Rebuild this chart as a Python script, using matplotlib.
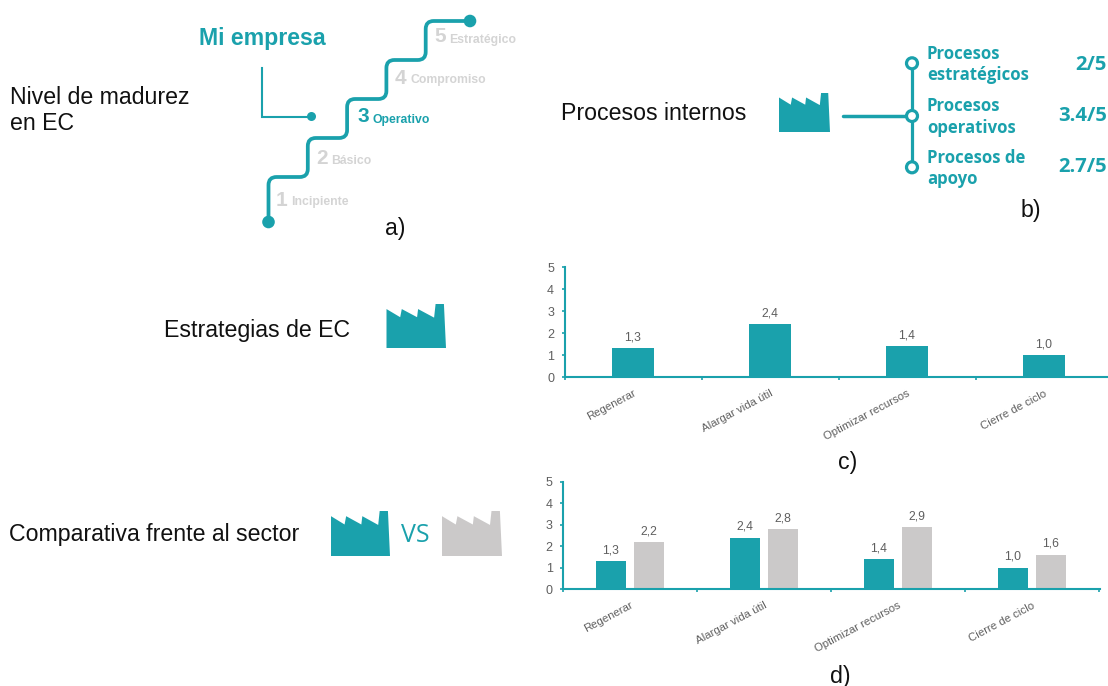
import matplotlib
matplotlib.use("Agg")
import matplotlib.pyplot as plt
import numpy as np
from matplotlib.patches import Circle, PathPatch, Polygon
from matplotlib.path import Path

W, H, DPI = 1108, 686, 100
TEAL = "#1AA1AC"
GREY = "#CBC9C9"
PALE = "#D4D4D4"
TEXT = "#111111"
TICK = "#5F5F5F"
HEAD = 16.7

# Data
categories = ["Regenerar", "Alargar vida útil", "Optimizar recursos", "Cierre de ciclo"]
mi_empresa = [1.3, 2.4, 1.4, 1.0]
sector = [2.2, 2.8, 2.9, 1.6]
niveles = [("1", "Incipiente"), ("2", "Básico"), ("3", "Operativo"),
           ("4", "Compromiso"), ("5", "Estratégico")]
nivel_actual = 3
procesos = ["Procesos\nestratégicos", "Procesos\noperativos", "Procesos de\napoyo"]
puntuaciones = ["2/5", "3.4/5", "2.7/5"]

plt.rcParams["font.family"] = ["Liberation Sans", "DejaVu Sans"]
fig = plt.figure(figsize=(W / DPI, H / DPI), dpi=DPI, facecolor="white")

# Full-figure layer in pixel units for the diagram elements
bg = fig.add_axes([0, 0, 1, 1])
bg.set_xlim(0, W)
bg.set_ylim(H, 0)
bg.axis("off")


def factory(x0, x1, y0, y1, color):
    outline = [(0, .115), (.23, .30), (.257, .115), (.514, .30), (.531, .115), (.80, .31),
               (.825, 0), (.965, 0), (1, 1), (0, 1)]
    pts = [(x0 + u * (x1 - x0), y0 + v * (y1 - y0)) for u, v in outline]
    bg.add_patch(Polygon(pts, closed=True, fc=color, ec="none"))


def stairs():
    r = 8
    xs = [268.5 + 39.3 * i for i in range(5)]
    tops = [177 - 39 * i for i in range(5)]
    verts = [(xs[0], 222)]
    codes = [Path.MOVETO]
    for i, (x, top) in enumerate(zip(xs, tops)):
        verts += [(x, top + r), (x, top), (x + r, top)]
        codes += [Path.LINETO, Path.CURVE3, Path.CURVE3]
        if i < 4:
            nx = xs[i + 1]
            verts += [(nx - r, top), (nx, top), (nx, top - r)]
            codes += [Path.LINETO, Path.CURVE3, Path.CURVE3]
    verts.append((470, tops[-1]))
    codes.append(Path.LINETO)
    bg.add_patch(PathPatch(Path(verts, codes), fc="none", ec=TEAL, lw=2.7,
                           capstyle="round", joinstyle="round"))


# Panel a: maturity staircase
bg.text(10, 110.5, "Nivel de madurez\nen EC", fontsize=HEAD, color=TEXT, va="center",
        linespacing=1.12)
bg.text(199, 39, "Mi empresa", fontsize=16.7, color=TEAL, weight="bold", va="center")
bg.plot([262, 262, 311], [68, 116.5, 116.5], color=TEAL, lw=1.5, solid_joinstyle="miter")
bg.add_patch(Circle((311.5, 116.5), 4.5, fc=TEAL, ec="none"))
stairs()
bg.add_patch(Circle((268.5, 222), 6.3, fc=TEAL, ec="none"))
bg.add_patch(Circle((470, 21), 6.3, fc=TEAL, ec="none"))

num_xy = [(276, 200), (316, 158), (357, 117), (395, 78), (434, 37)]
for (num, name), (nx, ny) in zip(niveles, num_xy):
    col = TEAL if int(num) == nivel_actual else PALE
    bg.text(nx, ny, num, fontsize=15, weight="bold", color=col, va="center")
    bg.text(nx + 15.5, ny + 2.5, name, fontsize=8.8, weight="bold", color=col, va="center")
bg.text(385, 228.5, "a)", fontsize=HEAD, color=TEXT, va="center")

# Panel b: internal processes
bg.text(561, 114, "Procesos internos", fontsize=HEAD, color=TEXT, va="center")
factory(779, 830, 93, 132, TEAL)
node_x = 912
node_y = [63.3, 116, 167.3]
bg.plot([node_x, node_x], [node_y[0], node_y[-1]], color=TEAL, lw=2.3, zorder=2)
bg.plot([843, node_x], [115.5, 115.5], color=TEAL, lw=2.5, zorder=2, solid_capstyle="round")
text_y = [64.5, 117, 168.5]
score_y = [65, 116, 167]
for ny, ty, sy, label, score in zip(node_y, text_y, score_y, procesos, puntuaciones):
    bg.add_patch(Circle((node_x, ny), 5.5, fc="white", ec=TEAL, lw=2.3, zorder=3))
    bg.text(927, ty, label, fontsize=12.1, family="Open Sans", weight="bold", color=TEAL,
            va="center", linespacing=1.22)
    bg.text(1107, sy, score, fontsize=14.6, family="Open Sans", weight="bold", color=TEAL,
            va="center", ha="right")
bg.text(1021, 211, "b)", fontsize=HEAD, color=TEXT, va="center")

# Panel c label
bg.text(164, 331, "Estrategias de EC", fontsize=HEAD, color=TEXT, va="center")
factory(386.5, 446, 304, 348, TEAL)
bg.text(838, 462.5, "c)", fontsize=HEAD, color=TEXT, va="center")

# Panel d label
bg.text(9, 535, "Comparativa frente al sector", fontsize=HEAD, color=TEXT, va="center")
factory(331, 390, 511, 556, TEAL)
bg.text(401, 535, "VS", fontsize=18, family="Open Sans", color=TEAL, va="center")
factory(442, 502, 511, 556, GREY)
bg.text(830, 676, "d)", fontsize=HEAD, color=TEXT, va="center")


def bar_axes(x0, x1, y_top, y_zero, spacing):
    ax = fig.add_axes([x0 / W, 1 - y_zero / H, (x1 - x0) / W, (y_zero - y_top) / H])
    ax.patch.set_alpha(0)
    for side in ("top", "right"):
        ax.spines[side].set_visible(False)
    for side in ("left", "bottom"):
        ax.spines[side].set_color(TEAL)
        ax.spines[side].set_linewidth(1.5)
    ax.set_yticks(range(6))
    ax.tick_params(axis="y", colors=TEAL, labelcolor=TICK, labelsize=9, length=2, width=1.2, pad=5.5)
    ax.set_xticks(np.arange(len(categories)), categories, rotation=28, ha="right",
                  rotation_mode="anchor", color=TICK, fontsize=8.2)
    ax.tick_params(axis="x", which="major", length=0, pad=8)
    ax.set_xticks(np.arange(len(categories) + 1) - .5, minor=True)
    ax.tick_params(axis="x", which="minor", color=TEAL, length=2.5, width=1.2)
    # Limits go last: tick placement can widen the view
    ax.set_xlim(-.5, -.5 + (x1 - x0) / spacing)
    ax.set_ylim(0, 5)
    return ax


def value_labels(ax, xs, vals):
    for xv, v in zip(xs, vals):
        ax.annotate(f"{v:.1f}".replace(".", ","), (xv, v), xytext=(0, 3.5),
                    textcoords="offset points", ha="center", va="bottom",
                    fontsize=8.7, color=TICK)


# Panel c: company strategies
pos = np.arange(len(categories))
ax_c = bar_axes(564.5, 1108, 267, 377, 137)
ax_c.bar(pos, mi_empresa, width=.31, color=TEAL)
value_labels(ax_c, pos, mi_empresa)

# Panel d: company against the sector
ax_d = bar_axes(563, 1099.5, 482, 589, 134)
off = 19 / 134
bw = 30 / 134
ax_d.bar(pos - off, mi_empresa, width=bw, color=TEAL)
ax_d.bar(pos + off, sector, width=bw, color=GREY)
value_labels(ax_d, pos - off, mi_empresa)
value_labels(ax_d, pos + off, sector)

fig.savefig("out.png", dpi=DPI, facecolor="white")
